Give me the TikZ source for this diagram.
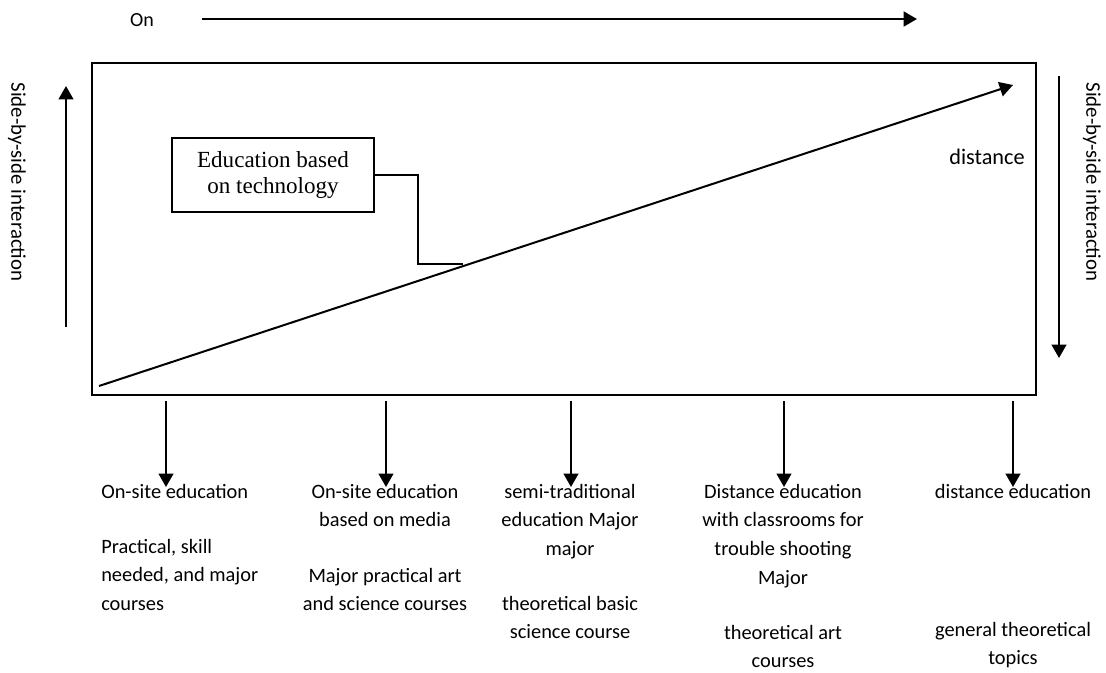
\documentclass[tikz,border=0pt]{standalone}
\usepackage{fontspec}
\setmainfont{Carlito}
\newfontfamily\serifbox{Liberation Serif}
\usetikzlibrary{arrows.meta}
\begin{document}
\begin{tikzpicture}[x=0.75pt,y=-0.75pt,
  line/.style={line width=1.4pt},
  arr/.style={line width=1.5pt,-{Triangle[width=11pt,length=10pt]}},
  lbl/.style={font=\fontsize{15.3pt}{21.4pt}\selectfont, inner sep=0pt, align=center, anchor=north},
  side/.style={font=\fontsize{15.6pt}{18pt}\selectfont, inner sep=0pt, rotate=-90},
  techbox/.style={draw, line width=1.3pt, minimum width=151.5pt, minimum height=55.5pt, inner sep=0pt,
     align=center, font=\serifbox\fontsize{17.3pt}{19pt}\selectfont}]
\useasboundingbox (0,0) rectangle (1106,672);

% top arrow
\node[font=\fontsize{15pt}{18pt}\selectfont, inner sep=0pt] (on) at (142,20) {On};
\coordinate (t0) at (202,19);
\coordinate (t1) at (917,19);
\draw[arr, line width=2pt] (t0) -- (t1);

% frame
\node[draw, line width=1.5pt, minimum width=708pt, minimum height=249pt, inner sep=0pt] (frame) at (564,229) {};

% side arrows and labels
\coordinate (la0) at (66,327);
\coordinate (la1) at (66,86);
\draw[arr] (la0) -- (la1);
\node[side] (lt) at (17,182) {Side-by-side interaction};
\coordinate (ra0) at (1059,76);
\coordinate (ra1) at (1059,358);
\draw[arr] (ra0) -- (ra1);
\node[side] (rt) at (1092,182) {Side-by-side interaction};

% diagonal
\coordinate (d0) at (99,386);
\coordinate (d1) at (1013,85);
\draw[arr] (d0) -- (d1);
\node[font=\fontsize{16.7pt}{18pt}\selectfont, inner sep=0pt] (dist) at (987,157) {distance};

% technology box
\node[techbox] (tech) at (273,175) {Education based\\on technology};
\coordinate (tj) at (463,264);
\draw[line] (tech.east) -- ++(43,0) |- (tj);

% bottom arrows
\foreach \i/\x in {1/166,2/386,3/571,4/784,5/1013}{
  \coordinate (b\i s) at (\x,401);
  \coordinate (b\i e) at (\x,487);
  \draw[arr] (b\i s) -- (b\i e);
}

% column texts
\node[lbl, align=left, anchor=north west] (c1a) at (101,484) {On-site education};
\node[lbl, align=left, anchor=north west] (c1b) at (101,539) {Practical, skill\\needed, and major\\courses};

\node[lbl] (c2a) at (385,484) {On-site education\\based on media};
\node[lbl] (c2b) at (385,568) {Major practical art\\and science courses};

\node[lbl] (c3a) at (570,484) {semi-traditional\\education Major\\major};
\node[lbl] (c3b) at (570,596) {theoretical basic\\science course};

\node[lbl] (c4a) at (783,484) {Distance education\\with classrooms for\\trouble shooting\\Major};
\node[lbl] (c4b) at (783,625) {theoretical art\\courses};

\node[lbl] (c5a) at (1013,484) {distance education};
\node[lbl] (c5b) at (1013,622) {general theoretical\\topics};
\end{tikzpicture}
\end{document}
